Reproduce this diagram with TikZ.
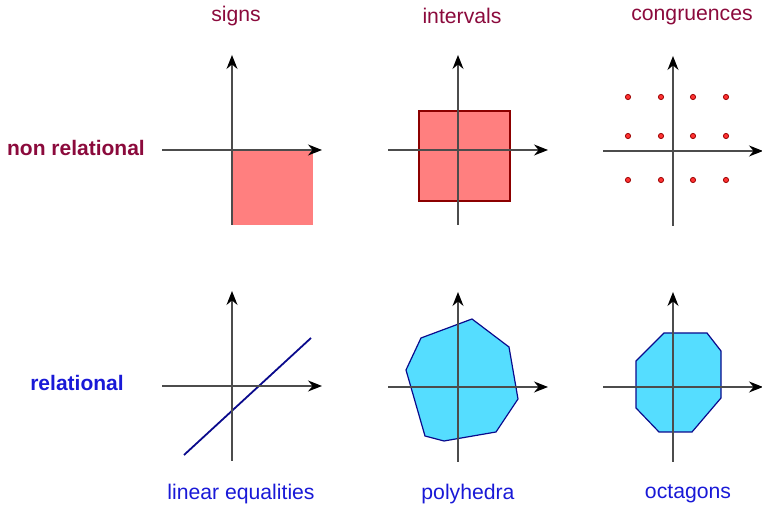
\documentclass[tikz,border=0pt]{standalone}
\usepackage{fontspec}
\setmainfont{Liberation Sans}
\usepackage{xcolor}
\usetikzlibrary{arrows.meta}

\definecolor{nonrel}{RGB}{139,10,60}
\definecolor{rel}{RGB}{25,25,215}
\definecolor{boxred}{RGB}{255,127,127}
\definecolor{polyblue}{RGB}{85,221,255}
\definecolor{edgeblue}{RGB}{10,10,140}

\begin{document}
\begin{tikzpicture}[
    x=0.5pt, y=-0.5pt,
    axis/.style={-{Stealth[length=7pt, width=5.5pt, black]}, black!70, line width=0.6pt},
    head/.style={font=\fontsize{10.6}{12}\selectfont, text=#1},
    lbl/.style={font=\fontsize{10.5}{12}\selectfont\bfseries, text=#1},
    dot/.style={circle, draw=red!60!black, fill=red!80, inner sep=0pt, minimum size=2.6pt, line width=0.4pt}
]
\useasboundingbox (0,0) rectangle (762,506);

% Column titles
\node[head=nonrel] (signs) at (236,16) {signs};
\node[head=nonrel] (intervals) at (462,16) {intervals};
\node[head=nonrel] (congr) at (692,17) {congruences};

% Row titles
\node[lbl=nonrel] (nonrel) at (76,148) {non relational};
\node[lbl=rel] (relational) at (77,383) {relational};

% Bottom titles
\node[head=rel] (lineq) at (241,494) {linear equalities};
\node[head=rel] (polyh) at (468,494) {polyhedra};
\node[head=rel] (octag) at (688,494) {octagons};

% Shapes
\fill[boxred] (232,150) rectangle (313,225);
\draw[fill=boxred, draw=red!55!black, line width=0.6pt] (419,111) rectangle (510,201);
\foreach \dx in {628,661,693,726}
  \foreach \dy in {97,136,180}
    \node[dot] (d-\dx-\dy) at (\dx,\dy) {};
\draw[edgeblue, line width=0.9pt] (184,455) -- (311,338);
\draw[fill=polyblue, draw=edgeblue, line width=0.6pt]
  (421,338) -- (472,319) -- (509,347) -- (518,399) -- (496,432)
  -- (444,441) -- (425,436) -- (406,370) -- cycle;
\draw[fill=polyblue, draw=edgeblue, line width=0.6pt]
  (664,333) -- (707,333) -- (721,351) -- (721,398) -- (692,432)
  -- (659,432) -- (636,408) -- (636,361) -- cycle;

% Axes
\foreach \ox/\oy in {232/150, 458/150, 673/151, 232/386, 458/387, 673/387} {
  \draw[axis] (\ox-70,\oy) -- (\ox+90,\oy);
  \draw[axis] (\ox,\oy+75) -- (\ox,\oy-95);
}
\end{tikzpicture}
\end{document}
